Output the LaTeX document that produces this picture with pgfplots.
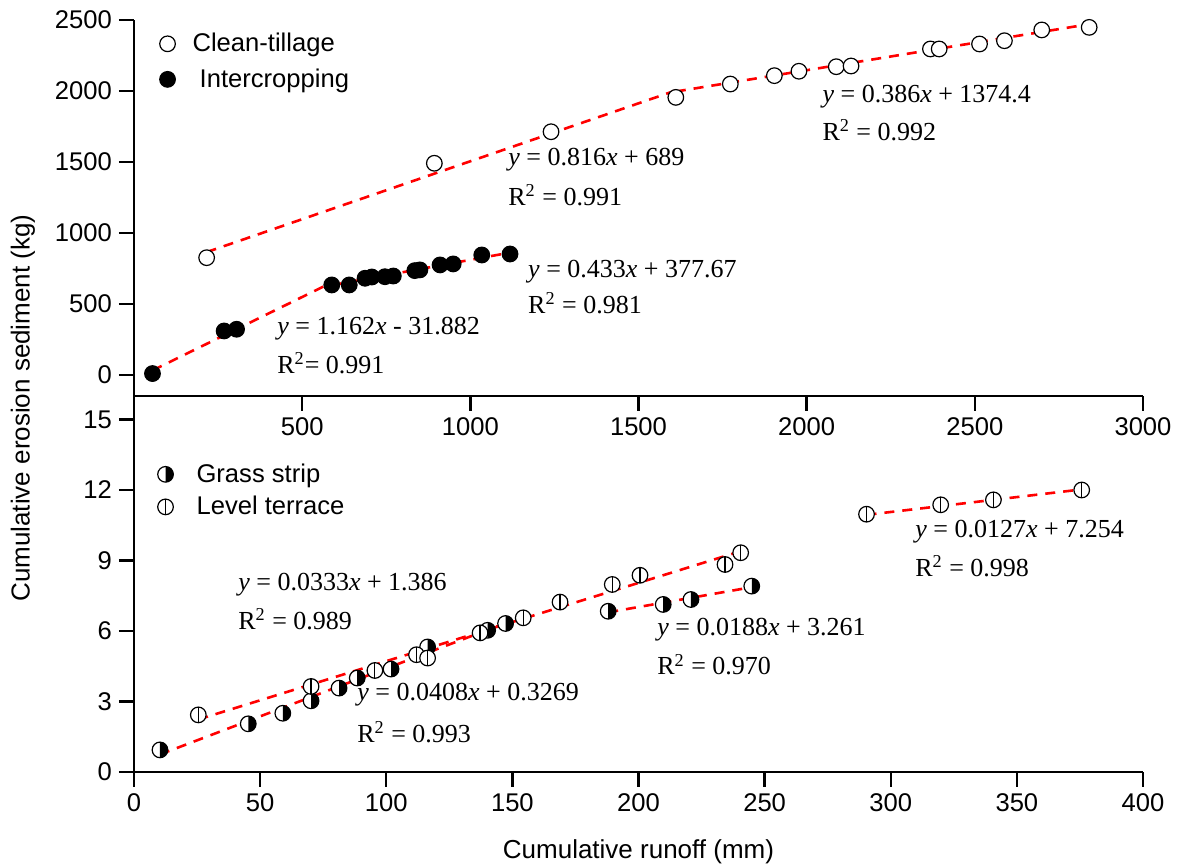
\documentclass[border=0pt]{standalone}
\usepackage{fontspec}
\setmainfont{Liberation Serif}
\setsansfont{Liberation Sans}
\usepackage{pgfplots}
\pgfplotsset{compat=1.18}

\pgfdeclareplotmark{halfright}{%
  \pgfpathcircle{\pgfpointorigin}{\pgfplotmarksize}%
  \pgfsetfillcolor{white}\pgfusepathqfill
  \pgfpathmoveto{\pgfqpoint{0pt}{-\pgfplotmarksize}}%
  \pgfpatharc{-90}{90}{\pgfplotmarksize}%
  \pgfpathclose
  \pgfsetfillcolor{black}\pgfusepathqfill
  \pgfpathcircle{\pgfpointorigin}{\pgfplotmarksize}%
  \pgfusepathqstroke
}
\pgfdeclareplotmark{vlinecirc}{%
  \pgfpathcircle{\pgfpointorigin}{\pgfplotmarksize}%
  \pgfsetfillcolor{white}\pgfusepathqfillstroke
  \pgfpathmoveto{\pgfqpoint{0pt}{-\pgfplotmarksize}}%
  \pgfpathlineto{\pgfqpoint{0pt}{\pgfplotmarksize}}%
  \pgfusepathqstroke
}

\newcommand{\tickfont}{\sffamily\fontsize{12.8}{15}\selectfont}
\newcommand{\labelfont}{\sffamily\fontsize{13}{15.6}\selectfont}
\newcommand{\eqfont}{\rmfamily\fontsize{13}{15.6}\selectfont}

\pgfplotstableread{
x y
216 826
893 1491
1240 1713
1611 1955
1773 2049
1904 2108
1977 2139
2088 2171
2132 2176
2368 2296
2394 2296
2514 2331
2588 2354
2699 2430
2840 2448
}\cleantillage

\pgfplotstableread{
x y
55 10
268 310
305 322
588 634
640 634
687 681
707 690
746 692
771 697
835 735
850 740
910 775
949 782
1034 845
1118 852
}\intercropping

\pgfplotstableread{
x y
10.3 0.94
45.3 2.05
59.0 2.50
70.2 3.03
81.3 3.57
88.5 4.00
101.9 4.38
116.4 5.32
140.2 6.03
147.3 6.32
188.0 6.84
209.8 7.13
220.8 7.34
244.9 7.91
}\grassstrip

\pgfplotstableread{
x y
25.5 2.43
70.2 3.64
95.5 4.32
112.0 4.99
116.4 4.85
137.2 5.92
154.3 6.56
168.9 7.23
189.6 7.98
200.6 8.37
234.3 8.83
240.5 9.33
290.4 10.97
319.8 11.37
340.7 11.58
375.7 12.00
}\levelterrace

\begin{document}
\begin{tikzpicture}
\useasboundingbox (-67pt,-47.5pt) rectangle (528pt,386pt);
\pgfplotsset{
  common/.style={
    scale only axis, width=504.5pt, height=188pt,
    axis x line=bottom, axis y line=left,
    axis line style={-, line width=1.2pt},
    tick align=outside,
    major tick length=7.5pt,
    tick style={line width=1.2pt, black},
    tick label style={font=\tickfont},
    /pgf/number format/assume math mode=true,
    /pgf/number format/1000 sep={},
    scaled ticks=false,
    clip=false,
    legend cell align=left,
    legend style={draw=none, fill=none, font=\tickfont, inner sep=0pt, row sep=3pt},
  },
  fitline/.style={red, line width=1.3pt, dash pattern=on 5pt off 4pt, forget plot},
}
% ---------------- top axis ----------------
\begin{axis}[common, at={(0pt,188pt)}, anchor=south west,
  xmin=0, xmax=3000, ymin=-148, ymax=2500,
  xtick={500,1000,...,3000}, ytick={0,500,...,2500},
  legend image code/.code={\path[draw=none,fill=none] (0pt,0pt) -- (19pt,0pt); \draw[#1] plot coordinates {(8.5pt,0pt)};},
  legend style={at={(rel axis cs:0.016,0.977)}, anchor=north west}]
\addplot[only marks, mark=*, mark size=3.9pt, mark options={draw=black, fill=white, line width=0.6pt}] table[x=x,y=y] {\cleantillage};
\addlegendentry{Clean-tillage}
\addplot[only marks, mark=*, mark size=3.9pt, mark options={draw=black, fill=black, line width=0.6pt}] table[x=x,y=y] {\intercropping};
\addlegendentry{\ Intercropping}
\addplot[fitline] coordinates {(216,865.3) (1611,2003.6)};
\addplot[fitline] coordinates {(1611,1996.2) (2840,2470.6)};
\addplot[fitline] coordinates {(55.5,32.6) (588,651.4)};
\addplot[fitline] coordinates {(588,632.3) (1118,861.8)};
\node[anchor=west, inner sep=0pt, font=\eqfont] at (axis cs:1112,1514) {\textit{y} = 0.816\textit{x} + 689};
\node[anchor=west, inner sep=0pt, font=\eqfont] at (axis cs:1112,1268) {R\textsuperscript{2} = 0.991};
\node[anchor=west, inner sep=0pt, font=\eqfont] at (axis cs:2046,1958) {\textit{y} = 0.386\textit{x} + 1374.4};
\node[anchor=west, inner sep=0pt, font=\eqfont] at (axis cs:2046,1725) {R\textsuperscript{2} = 0.992};
\node[anchor=west, inner sep=0pt, font=\eqfont] at (axis cs:1171,725) {\textit{y} = 0.433\textit{x} + 377.67};
\node[anchor=west, inner sep=0pt, font=\eqfont] at (axis cs:1171,507) {R\textsuperscript{2} = 0.981};
\node[anchor=west, inner sep=0pt, font=\eqfont] at (axis cs:425,324) {\textit{y} = 1.162\textit{x} - 31.882};
\node[anchor=west, inner sep=0pt, font=\eqfont] at (axis cs:425,85) {R\textsuperscript{2}= 0.991};
\end{axis}
% ---------------- bottom axis ----------------
\begin{axis}[common, at={(0pt,0pt)}, anchor=south west,
  xmin=0, xmax=400, ymin=0, ymax=16,
  xtick={0,50,...,400}, ytick={0,3,...,15},
  legend image code/.code={\path[draw=none,fill=none] (0pt,0pt) -- (22pt,0pt); \draw[#1] plot coordinates {(8.5pt,0pt)};},
  legend style={at={(rel axis cs:0.014,0.832)}, anchor=north west, row sep=1.5pt}]
\addplot[only marks, mark=halfright, mark size=3.9pt, mark options={draw=black, line width=0.6pt}] table[x=x,y=y] {\grassstrip};
\addlegendentry{Grass strip}
\addplot[only marks, mark=vlinecirc, mark size=3.9pt, mark options={draw=black, line width=0.6pt}] table[x=x,y=y] {\levelterrace};
\addlegendentry{Level terrace}
\addplot[fitline] coordinates {(10.3,0.747) (147.3,6.337)};
\addplot[fitline] coordinates {(188,6.795) (244.9,7.865)};
\addplot[fitline] coordinates {(25.5,2.235) (240.5,9.395)};
\addplot[fitline] coordinates {(290.4,10.942) (375.7,12.025)};
\node[anchor=west, inner sep=0pt, font=\eqfont] at (axis cs:41.2,7.98) {\textit{y} = 0.0333\textit{x} + 1.386};
\node[anchor=west, inner sep=0pt, font=\eqfont] at (axis cs:41.2,6.49) {R\textsuperscript{2} = 0.989};
\node[anchor=west, inner sep=0pt, font=\eqfont] at (axis cs:88.4,3.29) {\textit{y} = 0.0408\textit{x} + 0.3269};
\node[anchor=west, inner sep=0pt, font=\eqfont] at (axis cs:88.4,1.71) {R\textsuperscript{2} = 0.993};
\node[anchor=west, inner sep=0pt, font=\eqfont] at (axis cs:207.3,6.06) {\textit{y} = 0.0188\textit{x} + 3.261};
\node[anchor=west, inner sep=0pt, font=\eqfont] at (axis cs:207.3,4.57) {R\textsuperscript{2} = 0.970};
\node[anchor=west, inner sep=0pt, font=\eqfont] at (axis cs:309.6,10.24) {\textit{y} = 0.0127\textit{x} + 7.254};
\node[anchor=west, inner sep=0pt, font=\eqfont] at (axis cs:309.6,8.75) {R\textsuperscript{2} = 0.998};
\end{axis}
\node[rotate=90, font=\labelfont] at (-55.5pt,182pt) {Cumulative erosion sediment (kg)};
\node[font=\labelfont] at (252.25pt,-40pt) {Cumulative runoff (mm)};
\end{tikzpicture}
\end{document}
